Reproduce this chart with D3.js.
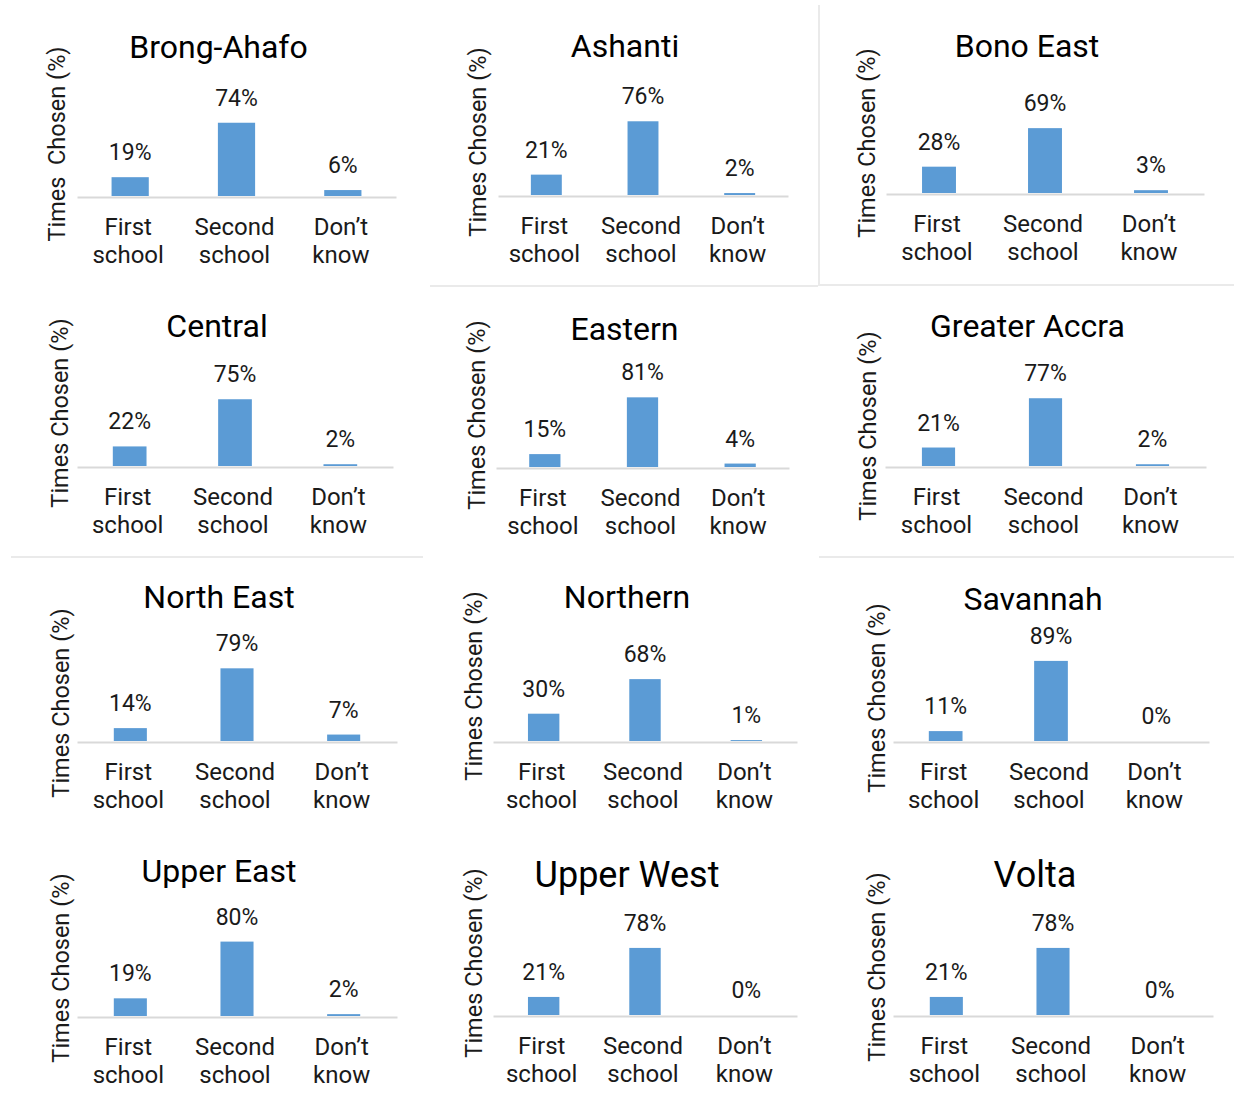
<!DOCTYPE html>
<meta charset="utf-8">
<style>
body { margin: 0; background: #fff; }
svg { display: block; font-family: Roboto, "Noto Sans", sans-serif; }
.title { font-size: 32px; fill: #000; text-anchor: middle; }
.value { font-size: 23px; fill: #1a1a1a; text-anchor: middle; }
.ylab { font-size: 23.5px; fill: #1a1a1a; text-anchor: middle; white-space: pre; }
.sep { stroke: #e3e3e3; stroke-width: 1.5px; }
</style>
<svg width="1234" height="1101"></svg>
<script src="https://d3js.org/d3.v7.min.js"></script>
<script>

// data (percent of times chosen)
var regions = ["Brong-Ahafo", "Ashanti", "Bono East", "Central", "Eastern", "Greater Accra",
               "North East", "Northern", "Savannah", "Upper East", "Upper West", "Volta"];
var categories = ["First school", "Second school", "Don’t know"];
var firstSchool  = [19, 21, 28, 22, 15, 21, 14, 30, 11, 19, 21, 21];
var secondSchool = [74, 76, 69, 75, 81, 77, 79, 68, 89, 80, 78, 78];
var dontKnow     = [ 6,  2,  3,  2,  4,  2,  7,  1,  0,  2,  0,  0];
var yTitles = ["Times  Chosen (%)", "Times Chosen (%)", "Times Chosen (%)", "Times Chosen (%)",
               "Times Chosen (%)", "Times Chosen (%)", "Times Chosen (%)", "Times Chosen (%)",
               "Times Chosen (%)", "Times Chosen (%)", "Times Chosen (%)", "Times Chosen (%)"];

// where each little chart sits (the panels were pasted together, so they differ a bit)
var layout = [
  {x0: 77,  x1: 396,  base: 196, h: 99, titleY: 58,  titleSize: 32, bar: 0.35, labX: 57,  labY: 144},
  {x0: 498, x1: 788,  base: 195, h: 97, titleY: 57,  titleSize: 32, bar: 0.32, labX: 478, labY: 142},
  {x0: 886, x1: 1204, base: 193, h: 94, titleY: 57,  titleSize: 32, bar: 0.32, labX: 867, labY: 143},
  {x0: 77,  x1: 393,  base: 466, h: 89, titleY: 337, titleSize: 32, bar: 0.32, labX: 60,  labY: 413},
  {x0: 496, x1: 789,  base: 467, h: 86, titleY: 340, titleSize: 32, bar: 0.32, labX: 477, labY: 415},
  {x0: 885, x1: 1206, base: 466, h: 88, titleY: 337, titleSize: 32, bar: 0.31, labX: 868, labY: 426},
  {x0: 77,  x1: 397,  base: 741, h: 92, titleY: 608, titleSize: 32, bar: 0.31, labX: 61,  labY: 703},
  {x0: 493, x1: 797,  base: 741, h: 91, titleY: 608, titleSize: 32, bar: 0.31, labX: 474, labY: 686},
  {x0: 893, x1: 1209, base: 741, h: 90, titleY: 610, titleSize: 32, bar: 0.32, labX: 877, labY: 698},
  {x0: 77,  x1: 397,  base: 1016, h: 93, titleY: 882, titleSize: 32, bar: 0.31, labX: 61,  labY: 968},
  {x0: 493, x1: 797,  base: 1015, h: 86, titleY: 887, titleSize: 36, bar: 0.31, labX: 474, labY: 963},
  {x0: 893, x1: 1213, base: 1015, h: 86, titleY: 887, titleSize: 36, bar: 0.31, labX: 877, labY: 967}
];

// faint borders left over from the pasted panels
var seps = [
  [819, 5, 819, 286], [430, 286, 818, 286], [820, 285, 1234, 285],
  [11, 557, 423, 557], [819, 557, 1234, 557]
];

var svg = d3.select("svg");

svg.selectAll("line.sep")
  .data(seps)
  .enter().append("line")
    .attr("class", "sep")
    .attr("x1", function(d) { return d[0]; })
    .attr("y1", function(d) { return d[1]; })
    .attr("x2", function(d) { return d[2]; })
    .attr("y2", function(d) { return d[3]; });

regions.forEach(function(region, i) {
  var L = layout[i];
  var values = [firstSchool[i], secondSchool[i], dontKnow[i]];
  var g = svg.append("g");

  var x = d3.scaleBand()
      .domain(categories)
      .range([L.x0, L.x1])
      .paddingInner(1 - L.bar)
      .paddingOuter((1 - L.bar) / 2);

  var y = d3.scaleLinear()
      .domain([0, 100])
      .range([L.base, L.base - L.h]);

  // axis line + two-line category labels
  var axis = g.append("g")
      .attr("transform", "translate(0," + (L.base + 1) + ")")
      .call(d3.axisBottom(x).tickSize(0).tickSizeOuter(0));

  axis.select(".domain")
      .attr("stroke", "#d9d9d9")
      .attr("stroke-width", 2);

  axis.selectAll(".tick text")
      .attr("font-size", 24)
      .attr("font-family", "Roboto, 'Noto Sans', sans-serif")
      .attr("fill", "#1a1a1a")
      .attr("y", 0)
      .attr("dy", null)
      .each(function(d) {
        var words = d.split(" ");
        var t = d3.select(this).text(null);
        t.append("tspan").attr("x", -2).attr("y", 38).text(words[0]);
        t.append("tspan").attr("x", -2).attr("y", 66).text(words[1]);
      });

  g.selectAll("rect")
    .data(values)
    .enter().append("rect")
      .attr("x", function(d, j) { return x(categories[j]); })
      .attr("y", function(d) { return y(d); })
      .attr("width", x.bandwidth())
      .attr("height", function(d) { return y(0) - y(d); })
      .attr("fill", "#5b9bd5");

  g.selectAll("text.value")
    .data(values)
    .enter().append("text")
      .attr("class", "value")
      .attr("x", function(d, j) { return x(categories[j]) + x.bandwidth() / 2; })
      .attr("y", function(d) { return y(d) - 17; })
      .text(function(d) { return d + "%"; });

  g.append("text")
    .attr("class", "title")
    .attr("x", (L.x0 + L.x1) / 2 - 18)
    .attr("y", L.titleY)
    .style("font-size", L.titleSize + "px")
    .text(region);

  g.append("text")
    .attr("class", "ylab")
    .attr("transform", "translate(" + (L.labX + 8) + "," + L.labY + ") rotate(-90)")
    .text(yTitles[i]);
});

</script>
